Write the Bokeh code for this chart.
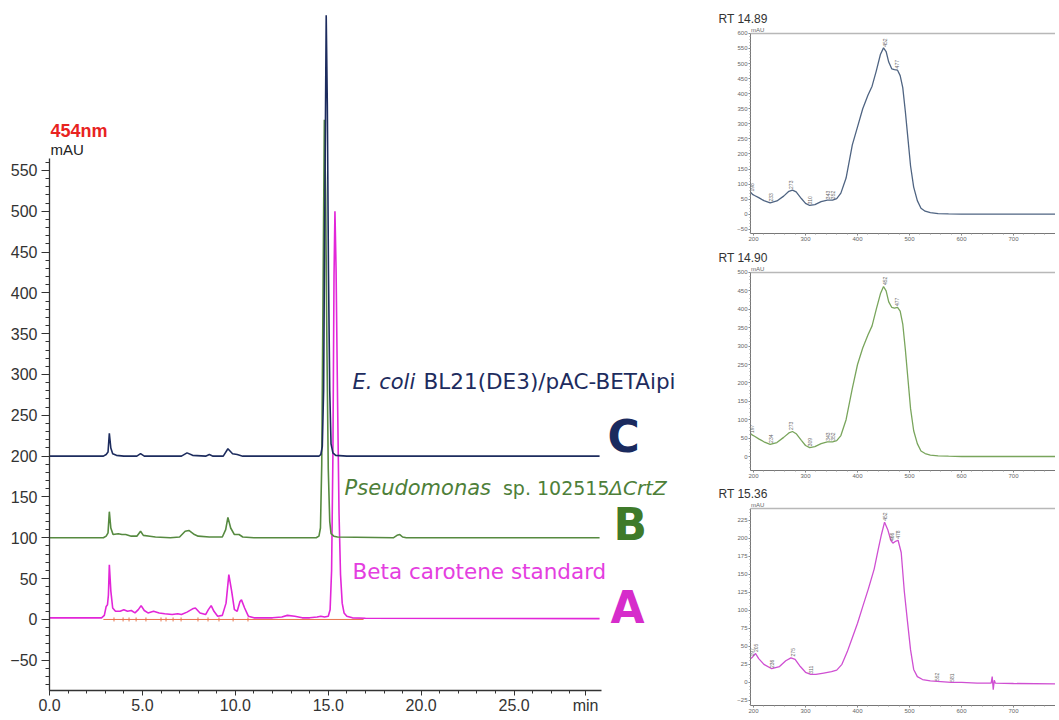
import numpy as np
from bokeh.plotting import figure
from bokeh.models import Label, FixedTicker, Span, Range1d, Title
from bokeh.layouts import row, column
from bokeh.embed import file_html
from bokeh.resources import INLINE

# ---------------- chromatogram data (454 nm) ----------------
c_time = [0, 2.9, 3.05, 3.15, 3.22, 3.3, 3.4, 3.6, 4.0, 4.7, 4.9, 5.1, 6.0, 7.1, 7.4, 7.7, 8.4, 8.6, 8.8,
          9.35, 9.6, 9.85, 10.1, 10.4, 11.0, 14.5, 14.6, 14.68, 14.75, 14.82, 14.89, 14.95, 15.01, 15.08,
          15.15, 15.25, 15.4, 16.0, 29.6]
c_mau = [200, 200, 202, 205, 228, 210, 203, 201, 200, 200, 203, 200, 200, 200, 204, 201, 200, 202, 200,
         200, 209, 203, 202, 200, 200, 200, 202, 212, 280, 520, 740, 630, 430, 280, 215, 204, 201, 200, 200]

b_time = [0, 2.9, 3.05, 3.15, 3.22, 3.3, 3.42, 3.7, 3.9, 4.1, 4.4, 4.7, 4.9, 5.05, 5.4, 5.7, 6.5, 7.0,
          7.3, 7.5, 7.8, 8.0, 8.6, 9.3, 9.48, 9.6, 9.75, 9.95, 10.2, 10.4, 11.0, 14.35, 14.5, 14.58, 14.65,
          14.72, 14.79, 14.86, 14.93, 15.0, 15.08, 15.15, 15.3, 15.5, 18.5, 18.7, 18.85, 19.0, 19.2, 29.6]
b_mau = [100, 100, 102, 106, 132, 112, 104, 105, 104, 104, 102, 102, 108, 103, 102, 101, 100, 101,
         108, 109, 104, 102, 101, 101, 110, 125, 112, 104, 104, 101, 100, 100, 102, 112, 190, 400, 612,
         520, 330, 185, 120, 105, 102, 101, 100, 103, 104, 101, 100, 100]

a_time = [0, 2.8, 2.95, 3.05, 3.12, 3.17, 3.22, 3.3, 3.4, 3.55, 3.8, 4.0, 4.2, 4.4, 4.6, 4.78, 4.93,
          5.1, 5.3, 5.6, 5.9, 6.2, 6.6, 6.9, 7.1, 7.4, 7.7, 7.85, 8.1, 8.4, 8.55, 8.7, 8.85, 9.05, 9.3,
          9.5, 9.65, 9.8, 9.95, 10.1, 10.25, 10.33, 10.5, 10.7, 11.0, 12.0, 12.5, 12.8, 13.2, 13.6, 14.0,
          14.4, 14.6, 14.8, 15.0, 15.1, 15.18, 15.25, 15.31, 15.36, 15.42, 15.5, 15.58, 15.66, 15.75,
          15.85, 16.0, 16.3, 17.0, 29.6]
a_mau = [2, 2, 5, 16, 18, 30, 67, 35, 14, 10, 10, 12, 10, 11, 8, 12, 17, 11, 8, 10, 8, 7, 6, 7, 6, 9,
         13, 14, 8, 6, 12, 17, 10, 4, 5, 20, 55, 35, 12, 10, 22, 24, 14, 4, 2, 2, 3, 5, 4, 2, 2, 3, 4, 3,
         4, 12, 60, 200, 420, 500, 430, 270, 130, 55, 20, 8, 4, 2, 1.5, 1]

base_time = [2.9, 16.9]
base_mau = [0, 0]
mark_time = [3.47, 3.96, 4.28, 4.66, 5.19, 6.0, 6.27, 6.65, 7.08, 7.99, 8.53, 9.12, 9.88, 10.68]
mark_mau = [0] * len(mark_time)

x_ticks = [0, 5, 10, 15, 20, 25, 28.85]
x_tick_labels = ["0.0", "5.0", "10.0", "15.0", "20.0", "25.0", "min"]

# ---------------- UV-Vis spectra ----------------
s1_nm = [195, 198, 202, 210, 220, 232, 245, 258, 268, 275, 282, 292, 300, 308, 318, 330, 342, 352, 360,
         368, 378, 390, 400, 410, 420, 428, 436, 444, 450, 455, 460, 466, 471, 477, 482, 487, 492, 497,
         502, 508, 515, 522, 530, 540, 555, 575, 600, 650, 700, 780]
s1_mau = [72, 66, 62, 55, 45, 38, 44, 60, 76, 80, 74, 52, 36, 29, 32, 42, 47, 47, 52, 70, 120, 230,
          290, 350, 395, 425, 475, 530, 552, 540, 505, 482, 480, 478, 460, 420, 340, 250, 160, 90, 45,
          20, 10, 5, 2, 1, 0, 0, 0, 0]

s2_nm = s1_nm
s2_mau = [62, 58, 55, 48, 40, 33, 38, 52, 64, 68, 62, 44, 30, 24, 27, 35, 40, 40, 43, 57, 100, 185,
          250, 295, 330, 355, 400, 442, 462, 450, 420, 405, 403, 405, 395, 360, 290, 210, 130, 70, 35,
          15, 8, 4, 2, 1, 0, 0, 0, 0]

s3_nm = [195, 199, 204, 210, 220, 235, 250, 262, 272, 280, 290, 300, 310, 320, 335, 350, 360, 370, 380,
         390, 400, 410, 421, 432, 440, 446, 452, 458, 464, 468, 472, 478, 484, 490, 496, 502, 508, 515,
         525, 540, 560, 580, 600, 630, 657, 659, 661, 663, 665, 700, 780]
s3_mau = [33, 36, 40, 33, 25, 19, 22, 30, 34, 32, 22, 14, 11, 11, 13, 15, 17, 25, 42, 62, 82, 105,
          130, 157, 185, 205, 222, 212, 197, 193, 195, 197, 180, 126, 85, 45, 18, 8, 4, 2, 1, 0, 0, -1,
          -1, 8, -10, 3, -1, -1.5, -2]

s1_lbl_nm = [197, 233, 273, 309, 343, 352, 452, 476]
s1_lbl_mau = [75, 42, 84, 32, 50, 50, 556, 484]
s1_lbl = ["198", "233", "273", "310", "343", "352", "452", "477"]
s2_lbl_nm = [197, 234, 273, 309, 343, 352, 452, 476]
s2_lbl_mau = [64, 37, 72, 28, 43, 43, 466, 409]
s2_lbl = ["197", "234", "273", "309", "343", "352", "452", "477"]
s3_lbl_nm = [197, 205, 236, 275, 311, 452, 466, 478, 552, 581]
s3_lbl_mau = [36, 42, 20, 36, 12, 224, 196, 199, 2, 1]
s3_lbl = ["197", "205", "236", "275", "311", "452", "466", "478", "552", "581"]

TICKFONT = "Liberation Sans"
LABFONT = "DejaVu Sans"

NAVY = "#1d2c5e"
GREEN = "#568a40"
MAG = "#e226d8"

# ---------------- main chromatogram ----------------
main = figure(width=705, height=716, x_range=Range1d(0, 35.3), y_range=Range1d(-87, 747),
              output_backend="svg", toolbar_location=None, title=None,
              min_border_left=49, min_border_right=0, min_border_top=9, min_border_bottom=25)
main.outline_line_color = None
main.grid.visible = False

main.line(a_time, a_mau, line_color=MAG, line_width=1.6)
main.line(base_time, base_mau, line_color="#e8744c", line_width=1)
main.scatter(mark_time, mark_mau, marker="dash", angle=np.pi / 2, size=4, line_color="#e8744c")
main.line(b_time, b_mau, line_color=GREEN, line_width=1.6)
main.line(c_time, c_mau, line_color=NAVY, line_width=1.6)

xa = main.xaxis[0]
xa.ticker = FixedTicker(ticks=x_ticks, minor_ticks=[m for m in range(0, 30) if m != 29])
xa.major_label_overrides = dict(zip(x_ticks, x_tick_labels))
xa.bounds = (0, 29.7)
ya = main.yaxis[0]
ya.ticker = FixedTicker(ticks=list(range(-50, 551, 50)), minor_ticks=list(range(-80, 561, 10)))
ya.bounds = (-87, 565)
for ax in (xa, ya):
    ax.axis_line_color = "#333333"
    ax.axis_line_width = 1.3
    ax.major_tick_line_color = "#333333"
    ax.minor_tick_line_color = "#333333"
    ax.major_tick_in = 0
    ax.minor_tick_in = 0
    ax.major_label_text_font = TICKFONT
    ax.major_label_text_font_size = "16px"
    ax.major_label_text_color = "#333333"
xa.major_tick_out = 5
xa.minor_tick_out = 3
xa.major_label_standoff = 1
ya.major_tick_out = 8
ya.minor_tick_out = 4
ya.major_label_standoff = 4

def lab(fig, x, y, text, color, size, style="normal", font=LABFONT, align="left", baseline="middle"):
    fig.add_layout(Label(x=x, y=y, text=text, text_color=color, text_font_size=size,
                         text_font_style=style, text_font=font, text_align=align,
                         text_baseline=baseline))

lab(main, 0.05, 598, "454nm", "#e8231f", "18px", "bold", TICKFONT)
lab(main, 0.05, 576, "mAU", "#222222", "15px", "normal", TICKFONT)

lab(main, 16.31, 291, "E. coli", NAVY, "21px", "italic")
lab(main, 20.13, 291, "BL21(DE3)/pAC-BETAipi", NAVY, "21.5px")
lab(main, 15.88, 161, "Pseudomonas", "#4e7f39", "21px", "italic")
lab(main, 24.4, 161, "sp. 102515", "#4e7f39", "19px")
lab(main, 30.12, 161, "\u0394CrtZ", "#4e7f39", "20px", "italic")
lab(main, 16.31, 58.7, "Beta carotene standard", "#e43ee0", "21.5px")
lab(main, 30.03, 223.7, "C", "#1a2a5e", "44px", "bold")
lab(main, 30.35, 116, "B", "#3f7a2a", "44px", "bold")
lab(main, 30.19, 14.7, "A", "#d62ccb", "44px", "bold")

# ---------------- spectrum panels ----------------
def panel(height, btop, bbot, y0, ytop, y1, ymaj, ymin, nm, mau, color, title, ln, lm, lt):
    p = figure(width=350, height=height, x_range=Range1d(194.2, 780.7), y_range=Range1d(y0, y1),
               output_backend="svg", toolbar_location=None,
               min_border_left=45, min_border_right=0, min_border_top=btop, min_border_bottom=bbot)
    p.title = Title(text=title, align="left", offset=-32, standoff=2, text_font_size="12px",
                    text_font_style="normal", text_font=TICKFONT, text_color="#333333")
    p.outline_line_color = None
    p.grid.visible = False
    p.add_layout(Span(location=ytop, dimension="width", line_color="#b8b8b8", line_width=1.5))
    p.line(nm, mau, line_color=color, line_width=1.3)
    p.text(ln, lm, text=lt, angle=np.pi / 2, text_font_size="5px", text_color="#666666",
           text_baseline="middle", text_align="left")
    xa = p.xaxis[0]
    xa.ticker = FixedTicker(ticks=[200, 300, 400, 500, 600, 700], minor_ticks=list(range(200, 781, 20)))
    ya = p.yaxis[0]
    ya.ticker = FixedTicker(ticks=ymaj, minor_ticks=ymin)
    ya.bounds = (y0, ytop)
    for ax in (xa, ya):
        ax.axis_line_color = "#777777"
        ax.major_tick_line_color = "#777777"
        ax.minor_tick_line_color = "#999999"
        ax.major_tick_in = 0
        ax.minor_tick_in = 0
        ax.major_tick_out = 2
        ax.minor_tick_out = 1
        ax.major_label_standoff = 1
        ax.major_label_text_font = TICKFONT
        ax.major_label_text_font_size = "6px"
        ax.major_label_text_color = "#666666"
    lab(p, 195, ytop, "mAU", "#666666", "6px", "normal", TICKFONT, baseline="bottom")
    return p

p1 = panel(244, 26, 11, -64, 600, 623, list(range(-50, 601, 50)), list(range(-60, 601, 10)),
           s1_nm, s1_mau, "#4f6482", "RT 14.89", s1_lbl_nm, s1_lbl_mau, s1_lbl)
p2 = panel(237, 21, 11, -38, 500, 519, list(range(0, 501, 50)), list(range(-30, 501, 10)),
           s2_nm, s2_mau, "#79a55c", "RT 14.90", s2_lbl_nm, s2_lbl_mau, s2_lbl)
p3 = panel(235, 20, 11, -32, 241, 250.7, list(range(-25, 226, 25)), list(range(-30, 241, 5)),
           s3_nm, s3_mau, "#cf4fd2", "RT 15.36", s3_lbl_nm, s3_lbl_mau, s3_lbl)

layout = row(main, column(p1, p2, p3, spacing=0), spacing=0)
open("out.html", "w").write(file_html(layout, INLINE))
